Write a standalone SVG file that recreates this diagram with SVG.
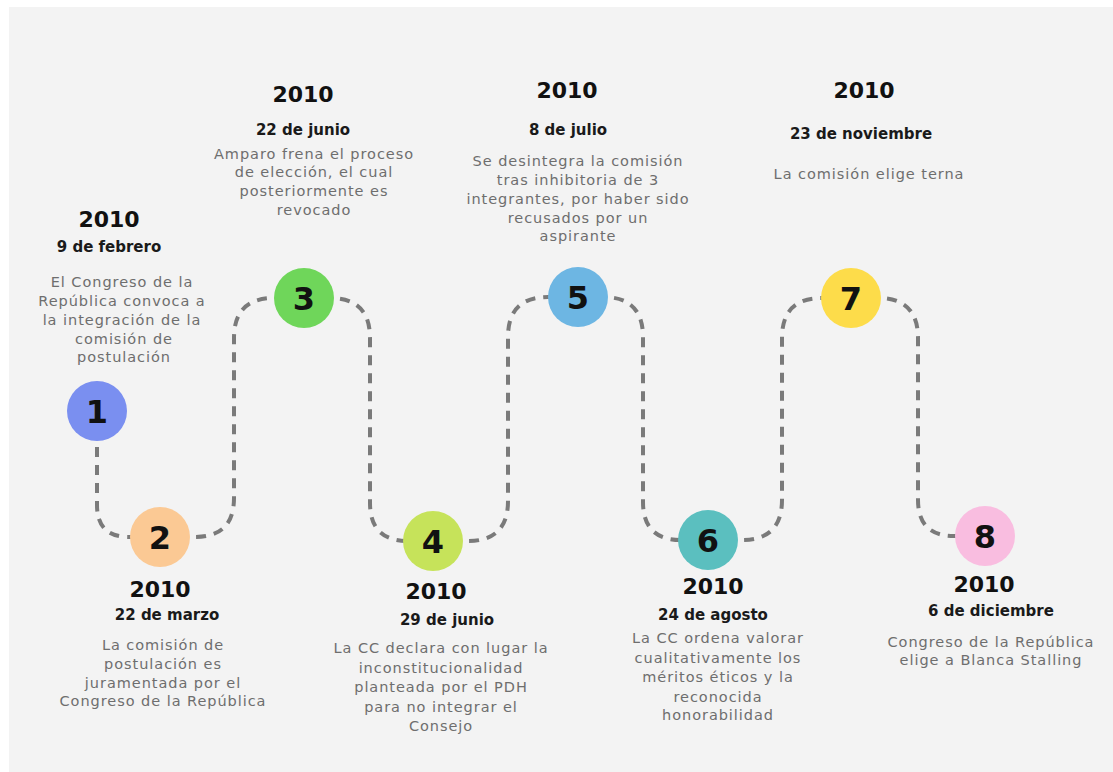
<svg xmlns="http://www.w3.org/2000/svg" width="1113" height="772" viewBox="0 0 1113 772">
<style>
.yr{font-family:"DejaVu Sans",sans-serif;font-weight:bold;font-size:22px;fill:#111;text-anchor:middle}
.dt{font-family:"DejaVu Sans",sans-serif;font-weight:bold;font-size:15px;fill:#1a1a1a;text-anchor:middle}
.bd{font-family:"DejaVu Sans",sans-serif;font-size:14.5px;fill:#6e6e6e;text-anchor:middle;letter-spacing:0.95px}
.num{font-family:"DejaVu Sans",sans-serif;font-weight:bold;font-size:32px;fill:#111;text-anchor:middle}
.con{fill:none;stroke:#7a7a7a;stroke-width:4;stroke-dasharray:10 8}
</style>
<rect x="0" y="0" width="1113" height="772" fill="#ffffff"/>
<rect x="9" y="7" width="1104" height="765" fill="#f3f3f3"/>
<g id="connectors">
<path class="con" d="M97 411 V505 Q97 537 129 537 H160"/>
<path class="con" d="M160 537 H195 Q234 537 234 498 V338 Q234 298 274 298 H304"/>
<path class="con" d="M304 298 H330 Q370 298 370 338 V503 Q370 541 408 541 H433"/>
<path class="con" d="M433 541 H468 Q508 541 508 501 V337 Q508 297 548 297 H578"/>
<path class="con" d="M578 297 H603 Q643 297 643 337 V502 Q643 540 681 540 H708"/>
<path class="con" d="M708 540 H742 Q782 540 782 500 V338 Q782 298 822 298 H851"/>
<path class="con" d="M851 298 H878 Q918 298 918 338 V500 Q918 536 954 536 H985"/>
<path class="con" d="M985 536 H1020"/>
</g>
<g id="node1">
<circle cx="97" cy="411" r="30" fill="#7a8ff0"/>
<text class="num" x="97" y="423">1</text>
<text class="yr" x="109" y="227">2010</text>
<text class="dt" x="109" y="252">9 de febrero</text>
<text class="bd" x="122" y="287">El Congreso de la</text>
<text class="bd" x="122" y="306">República convoca a</text>
<text class="bd" x="122" y="325">la integración de la</text>
<text class="bd" x="124" y="344">comisión de</text>
<text class="bd" x="124" y="362">postulación</text>
</g>
<g id="node2">
<circle cx="160" cy="537" r="30" fill="#fbc994"/>
<text class="num" x="160" y="549">2</text>
<text class="yr" x="160" y="597">2010</text>
<text class="dt" x="167" y="620">22 de marzo</text>
<text class="bd" x="163" y="650">La comisión de</text>
<text class="bd" x="163" y="669">postulación es</text>
<text class="bd" x="163" y="688">juramentada por el</text>
<text class="bd" x="163" y="706">Congreso de la República</text>
</g>
<g id="node3">
<circle cx="304" cy="298" r="30" fill="#6fd65a"/>
<text class="num" x="304" y="310">3</text>
<text class="yr" x="303" y="102">2010</text>
<text class="dt" x="303" y="135">22 de junio</text>
<text class="bd" x="314" y="159">Amparo frena el proceso</text>
<text class="bd" x="314" y="177">de elección, el cual</text>
<text class="bd" x="314" y="196">posteriormente es</text>
<text class="bd" x="314" y="215">revocado</text>
</g>
<g id="node4">
<circle cx="433" cy="541" r="30" fill="#c6e35a"/>
<text class="num" x="433" y="553">4</text>
<text class="yr" x="436" y="599">2010</text>
<text class="dt" x="447" y="625">29 de junio</text>
<text class="bd" x="441" y="653">La CC declara con lugar la</text>
<text class="bd" x="441" y="673">inconstitucionalidad</text>
<text class="bd" x="441" y="692">planteada por el PDH</text>
<text class="bd" x="441" y="712">para no integrar el</text>
<text class="bd" x="441" y="731">Consejo</text>
</g>
<g id="node5">
<circle cx="578" cy="297" r="30" fill="#6db6e3"/>
<text class="num" x="578" y="309">5</text>
<text class="yr" x="567" y="98">2010</text>
<text class="dt" x="568" y="135">8 de julio</text>
<text class="bd" x="578" y="166">Se desintegra la comisión</text>
<text class="bd" x="578" y="185">tras inhibitoria de 3</text>
<text class="bd" x="578" y="204">integrantes, por haber sido</text>
<text class="bd" x="578" y="223">recusados por  un</text>
<text class="bd" x="578" y="241">aspirante</text>
</g>
<g id="node6">
<circle cx="708" cy="540" r="30" fill="#5bbfbf"/>
<text class="num" x="708" y="552">6</text>
<text class="yr" x="713" y="594">2010</text>
<text class="dt" x="713" y="620">24 de agosto</text>
<text class="bd" x="718" y="643">La CC ordena valorar</text>
<text class="bd" x="718" y="663">cualitativamente los</text>
<text class="bd" x="718" y="682">méritos éticos y la</text>
<text class="bd" x="718" y="702">reconocida</text>
<text class="bd" x="718" y="720">honorabilidad</text>
</g>
<g id="node7">
<circle cx="851" cy="298" r="30" fill="#fddc4a"/>
<text class="num" x="851" y="310">7</text>
<text class="yr" x="864" y="98">2010</text>
<text class="dt" x="861" y="139">23 de noviembre</text>
<text class="bd" x="869" y="179">La comisión elige terna</text>
</g>
<g id="node8">
<circle cx="985" cy="536" r="30" fill="#f9bde0"/>
<text class="num" x="985" y="548">8</text>
<text class="yr" x="984" y="592">2010</text>
<text class="dt" x="991" y="616">6 de diciembre</text>
<text class="bd" x="991" y="647">Congreso de la República</text>
<text class="bd" x="991" y="665">elige a Blanca Stalling</text>
</g>
</svg>
